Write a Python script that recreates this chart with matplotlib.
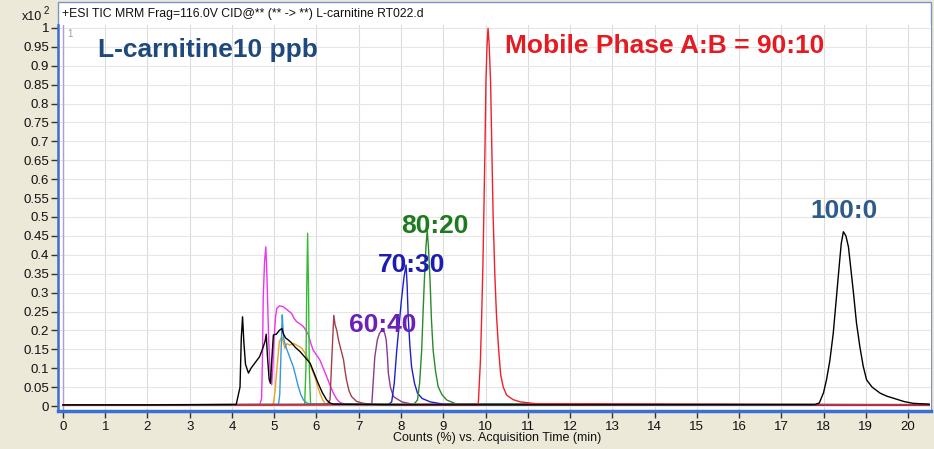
import matplotlib
matplotlib.use("Agg")
import matplotlib.pyplot as plt
from matplotlib.patches import Rectangle

# ---------------- data (time in min, counts x10^2) ----------------
t_black = [0.0, 2.0, 4.10, 4.19, 4.22, 4.25, 4.28, 4.32, 4.39, 4.45, 4.55, 4.65, 4.72, 4.78, 4.81,
           4.84, 4.88, 4.91, 4.94, 4.98, 5.05, 5.12, 5.18, 5.22, 5.27, 5.33, 5.40, 5.50, 5.61,
           5.72, 5.85, 5.95, 6.04, 6.14, 6.24, 6.32, 6.40, 8.0, 12.0, 17.80,
           17.90, 18.00, 18.07, 18.15, 18.23, 18.30, 18.37, 18.42, 18.47, 18.53, 18.59, 18.65,
           18.71, 18.78, 18.86, 18.94, 19.02, 19.15, 19.34, 19.50, 19.73, 19.90, 20.12, 20.50]
y_black = [0.003, 0.003, 0.004, 0.05, 0.18, 0.236, 0.17, 0.11, 0.087, 0.10, 0.115, 0.13, 0.15, 0.17, 0.19,
           0.13, 0.07, 0.06, 0.12, 0.188, 0.19, 0.20, 0.205, 0.19, 0.18, 0.175, 0.168, 0.155, 0.144,
           0.13, 0.113, 0.085, 0.06, 0.035, 0.016, 0.008, 0.005, 0.003, 0.003, 0.004,
           0.008, 0.035, 0.069, 0.12, 0.192, 0.28, 0.369, 0.43, 0.461, 0.45, 0.421, 0.36,
           0.298, 0.22, 0.157, 0.105, 0.069, 0.05, 0.034, 0.026, 0.018, 0.012, 0.007, 0.005]

t_magenta = [0.0, 4.66, 4.70, 4.72, 4.74, 4.77, 4.80, 4.82, 4.84, 4.87, 4.90, 4.94, 4.97, 5.00, 5.03,
             5.06, 5.12, 5.21, 5.30, 5.41, 5.47, 5.53, 5.60, 5.69, 5.75, 5.81, 5.86, 5.92, 6.00,
             6.08, 6.16, 6.24, 6.32, 6.40, 6.48, 6.56, 6.70, 20.5]
y_magenta = [0.003, 0.004, 0.02, 0.12, 0.289, 0.38, 0.421, 0.37, 0.29, 0.17, 0.095, 0.056, 0.11, 0.183, 0.235,
             0.258, 0.265, 0.263, 0.255, 0.245, 0.232, 0.223, 0.218, 0.21, 0.20, 0.188, 0.168, 0.148, 0.135,
             0.122, 0.10, 0.078, 0.055, 0.034, 0.018, 0.009, 0.004, 0.003]

t_orange = [0.0, 4.95, 4.98, 5.02, 5.06, 5.12, 5.18, 5.25, 5.30, 5.37, 5.45, 5.53, 5.65, 5.73, 5.81,
            5.88, 5.96, 6.02, 6.08, 6.14, 6.20, 6.30, 20.5]
y_orange = [0.003, 0.004, 0.007, 0.04, 0.095, 0.17, 0.183, 0.153, 0.165, 0.161, 0.166, 0.161, 0.153, 0.14, 0.122,
            0.10, 0.078, 0.055, 0.034, 0.018, 0.007, 0.004, 0.003]

t_lblue = [0.0, 5.10, 5.13, 5.16, 5.19, 5.21, 5.23, 5.28, 5.33, 5.39, 5.45, 5.51, 5.57, 5.63, 5.69,
           5.77, 5.85, 20.5]
y_lblue = [0.003, 0.004, 0.03, 0.14, 0.241, 0.20, 0.175, 0.155, 0.14, 0.122, 0.104, 0.078, 0.051, 0.03, 0.016,
           0.008, 0.005, 0.003]

t_lgreen = [0.0, 5.72, 5.75, 5.77, 5.79, 5.81, 5.83, 5.86, 20.5]
y_lgreen = [0.003, 0.004, 0.10, 0.316, 0.457, 0.316, 0.10, 0.005, 0.003]

t_brown = [0.0, 6.25, 6.32, 6.36, 6.41, 6.44, 6.48, 6.52, 6.56, 6.60, 6.64, 6.68, 6.71, 6.77, 6.83,
           6.95, 7.11, 7.40, 20.5]
y_brown = [0.003, 0.004, 0.016, 0.12, 0.24, 0.215, 0.20, 0.175, 0.157, 0.14, 0.122, 0.09, 0.069, 0.04, 0.025,
           0.012, 0.007, 0.004, 0.003]

t_purple = [0.0, 7.25, 7.31, 7.34, 7.38, 7.44, 7.49, 7.57, 7.62, 7.65, 7.68, 7.70, 7.75, 7.82, 8.02,
            8.30, 20.5]
y_purple = [0.003, 0.004, 0.007, 0.06, 0.13, 0.175, 0.192, 0.205, 0.19, 0.175, 0.13, 0.087, 0.05, 0.025, 0.011,
            0.004, 0.003]

t_blue = [0.0, 7.70, 7.78, 7.84, 7.90, 7.96, 8.01, 8.07, 8.12, 8.145, 8.17, 8.21, 8.25, 8.32, 8.39,
          8.50, 8.69, 9.00, 20.5]
y_blue = [0.003, 0.004, 0.011, 0.06, 0.148, 0.22, 0.28, 0.34, 0.373, 0.32, 0.236, 0.16, 0.104, 0.06, 0.034,
          0.02, 0.011, 0.005, 0.003]

t_green = [0.0, 8.30, 8.39, 8.44, 8.49, 8.52, 8.55, 8.59, 8.62, 8.65, 8.69, 8.72, 8.76, 8.82, 8.88,
           8.97, 9.08, 9.32, 20.5]
y_green = [0.003, 0.004, 0.016, 0.06, 0.148, 0.24, 0.325, 0.42, 0.466, 0.42, 0.325, 0.23, 0.148, 0.09, 0.051,
           0.03, 0.016, 0.005, 0.004]

t_red = [0.0, 9.78, 9.83, 9.88, 9.91, 9.94, 9.96, 9.99, 10.01, 10.035, 10.06, 10.085, 10.12, 10.15,
         10.18, 10.22, 10.26, 10.31, 10.36, 10.42, 10.50, 10.65, 10.82, 11.20, 20.5]
y_red = [0.003, 0.004, 0.007, 0.12, 0.24, 0.38, 0.505, 0.70, 0.858, 0.95, 0.999, 0.96, 0.858, 0.68,
         0.505, 0.35, 0.24, 0.15, 0.082, 0.05, 0.029, 0.017, 0.011, 0.006, 0.003]

series = [
    (t_magenta, y_magenta, "#EE33EE"),
    (t_orange, y_orange, "#F0A020"),
    (t_lblue, y_lblue, "#3399DD"),
    (t_lgreen, y_lgreen, "#33BB33"),
    (t_brown, y_brown, "#A0404A"),
    (t_purple, y_purple, "#8B3A8B"),
    (t_blue, y_blue, "#2020C8"),
    (t_green, y_green, "#2A8A2A"),
    (t_red, y_red, "#F0202A"),
    (t_black, y_black, "#000000"),
]

labels = [
    ("L-carnitine10 ppb", 3.44, 0.922, "#1F497D"),
    ("Mobile Phase A:B = 90:10", 14.25, 0.935, "#E31B23"),
    ("80:20", 8.80, 0.458, "#1E7A1E"),
    ("70:30", 8.24, 0.354, "#1C1CB4"),
    ("60:40", 7.57, 0.196, "#6B21B8"),
    ("100:0", 18.48, 0.497, "#2E5C8A"),
]

title = "+ESI TIC MRM Frag=116.0V CID@** (** -> **) L-carnitine RT022.d"
xlabel = "Counts (%) vs. Acquisition Time (min)"
xticks = list(range(0, 21))
yticks = [i * 0.05 for i in range(21)]

# ---------------- figure ----------------
W, H = 934, 449
fig = plt.figure(figsize=(W / 100, H / 100), dpi=100, facecolor="#ECE9D8")
plt.rcParams["font.family"] = ["Liberation Sans", "DejaVu Sans"]

def fx(px):
    return px / W

def fy(py):
    return 1 - py / H

# white panel with title strip (behind the axes)
fig.patches.append(Rectangle((fx(58), fy(411)), fx(931) - fx(58), fy(2) - fy(411),
                             transform=fig.transFigure, facecolor="white",
                             edgecolor="#7A96C8", lw=1.0, zorder=-10))

ax = fig.add_axes([fx(58), fy(411), fx(931) - fx(58), fy(25) - fy(411)])
ax.set_facecolor("white")
ax.set_xlim(-0.118, 20.544)
ax.set_ylim(-0.0132, 1.0079)

for x in xticks:
    ax.axvline(x, color="#DCDCDC", lw=0.8, zorder=0)
for y in yticks:
    ax.axhline(y, color="#E6E6E6", lw=0.8, zorder=0)
ax.axvline(0, color="#B59AD8", lw=1.0, zorder=1)

for t, y, c in series:
    ax.plot(t, y, color=c, lw=1.0, zorder=2)

for txt, x, y, c in labels:
    ax.text(x, y, txt, color=c, fontsize=19, fontweight="bold",
            ha="center", va="baseline", family=["Liberation Sans", "DejaVu Sans"], zorder=3)

ax.text(0.1, 0.985, "1", color="#A0A0A0", fontsize=7, ha="left", va="center")

ax.set_xticks(xticks)
ax.set_xticklabels([str(v) for v in xticks])
ax.set_yticks(yticks)
ax.set_yticklabels([("%.2f" % v).rstrip("0").rstrip(".") for v in yticks])
ax.tick_params(axis="x", direction="out", length=5, width=1, color="#333333",
               labelsize=9.5, pad=2, labelcolor="#111111")
ax.tick_params(axis="y", direction="out", length=5, width=1, color="#333333",
               labelsize=9.5, pad=1.5, labelcolor="#111111")

for s in ["top", "right"]:
    ax.spines[s].set_visible(False)
ax.spines["left"].set_color("#3D6FD0")
ax.spines["left"].set_linewidth(1.8)
ax.spines["bottom"].set_color("#3D6FD0")
ax.spines["bottom"].set_linewidth(2.5)

fig.text(fx(497), fy(438), xlabel, fontsize=9, ha="center", va="center", color="#111111")
fig.text(fx(62), fy(14), title, fontsize=8.8, ha="left", va="center", color="#111111")
fig.text(fx(42), fy(17), "x10", fontsize=9, ha="right", va="center", color="#111111")
fig.text(fx(44), fy(11), "2", fontsize=7, ha="left", va="center", color="#111111")

fig.savefig("out.png", dpi=100, facecolor=fig.get_facecolor())
